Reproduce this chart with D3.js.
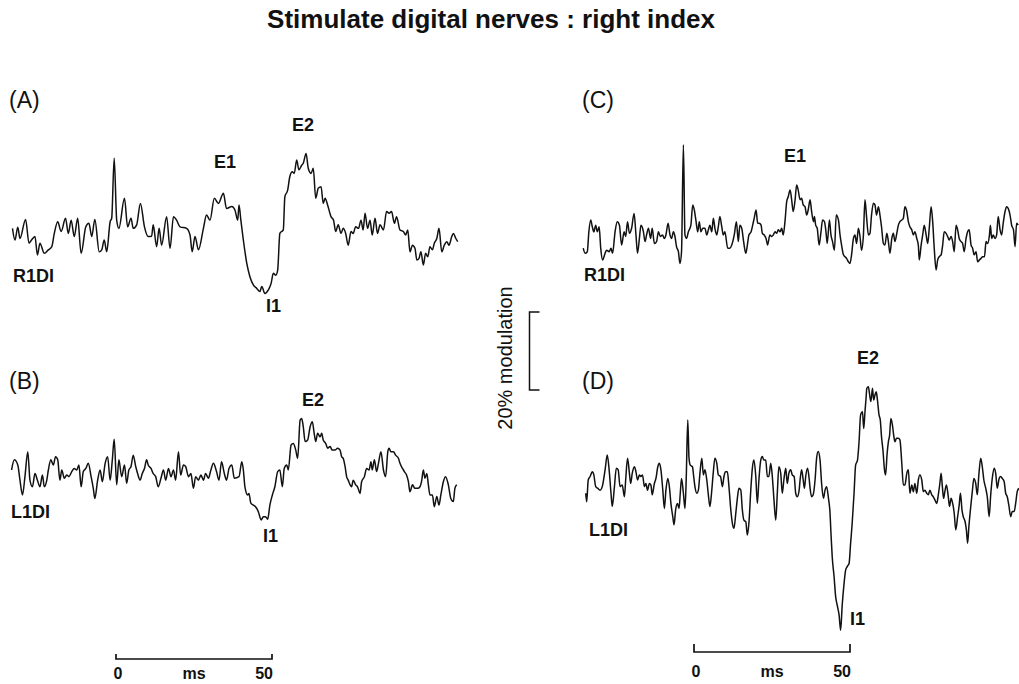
<!DOCTYPE html>
<html>
<head>
<meta charset="utf-8">
<script src="https://cdn.jsdelivr.net/npm/d3@7"></script>
<style>
  html, body { margin: 0; padding: 0; background: white; }
  svg { display: block; }
  text { font-family: "Liberation Sans", Arial, Helvetica, sans-serif; fill: #111; }
</style>
</head>
<body>
<svg id="main-svg" width="1019" height="684"></svg>
<script>
// traces: [time (ms from stimulus), modulation (%)]
const traceA = [
  [-33.5,1.7],[-32.7,-1.3],[-31.8,2.0],[-31.1,-0.9],[-29.3,4.0],[-28.2,-2.1],[-27.4,-1.3],[-26.3,-0.4],
  [-25.5,-5.1],[-24.7,-2.1],[-23.3,-4.7],[-22.0,-3.8],[-20.9,-3.0],[-20.1,0.4],[-19.0,3.4],[-17.9,0.9],
  [-16.5,4.3],[-15.6,0.4],[-14.7,3.8],[-13.7,-0.4],[-12.6,4.3],[-11.5,-4.7],[-10.0,2.1],[-9.0,3.0],
  [-8.1,-0.4],[-7.1,4.0],[-5.7,-4.3],[-4.9,-3.8],[-4.1,-1.3],[-3.3,-4.3],[-2.2,3.4],[-1.7,4.3],
  [-0.9,19.7],[-0.1,3.8],[0.6,1.7],[2.4,9.4],[3.4,2.1],[4.5,4.3],[5.2,1.7],[6.3,2.6],[7.5,8.1],
  [8.8,2.1],[10.0,-0.4],[11.1,-0.3],[11.6,2.6],[12.7,-3.0],[13.5,1.7],[14.3,-2.6],[15.9,4.7],
  [17.0,-3.4],[18.1,4.7],[19.1,3.8],[20.2,2.1],[22.3,1.7],[23.4,0],[24.1,-4.3],[25.0,-0.4],
  [26.1,-3.8],[27.7,1.7],[28.7,5.1],[29.8,3.8],[31.2,9.4],[32.5,8.1],[34.1,10.7],[35.1,6.8],
  [36.8,7.3],[37.8,6.4],[38.7,3.8],[39.1,7.7],[39.7,3.8],[40.5,-1.3],[41.6,-7.3],[42.6,-10.7],
  [43.7,-12.8],[44.8,-13.7],[45.8,-14.5],[46.4,-13.2],[47.4,-15.0],[48.5,-14.1],[49.4,-12.4],
  [50.1,-9.8],[50.9,-10.3],[51.5,-9.0],[52.2,0.4],[53.3,1.3],[53.8,9.8],[54.7,11.5],[55.4,15.0],
  [56.2,16.2],[56.8,15.8],[57.6,19.2],[58.3,16.7],[59.2,17.9],[59.7,18.4],[60.6,20.9],[61.3,17.1],
  [62.2,15.8],[62.9,17.1],[63.7,9.4],[64.5,12.0],[65.4,12.4],[66.1,8.1],[66.7,9.4],[67.5,7.7],
  [68.6,4.7],[69.4,3.8],[70.1,0.9],[70.9,2.6],[71.8,0.4],[72.5,1.7],[73.3,0.4],[74.1,-2.6],
  [75.0,0.9],[75.7,0.4],[76.5,2.1],[77.4,1.7],[78.2,3.8],[78.9,1.3],[79.5,5.6],[80.3,1.7],
  [81.1,3.8],[81.8,0],[82.7,4.3],[83.5,0.4],[84.3,2.6],[85.4,1.3],[86.4,6.0],[87.2,5.6],
  [88.0,6.0],[88.9,3.0],[89.6,4.7],[90.7,1.3],[91.8,0.9],[92.5,0],[93.2,1.3],[93.9,-4.3],
  [94.7,-2.6],[95.5,-3.4],[96.1,-6.4],[96.8,-6.0],[97.4,-4.3],[98.2,-7.7],[98.9,-4.7],[99.6,-5.6],
  [100.3,-3.0],[101.1,-3.8],[101.7,-2.1],[102.5,-0.9],[103.2,1.7],[104.1,-4.3],[104.9,-2.6],
  [105.7,-1.7],[106.4,-2.6],[107.3,-0.4],[107.8,0.4],[108.6,-0.9],[109.2,-1.7]
];

const traceB = [
  [-33.8,0],[-32.9,2.6],[-31.8,1.3],[-31.1,-2.6],[-30.3,-6.4],[-29.5,-1.7],[-28.6,4.7],[-27.9,-2.6],
  [-27.1,-4.3],[-26.3,-0.9],[-25.5,-2.6],[-24.7,-4.3],[-23.9,-1.3],[-23.3,-4.3],[-22.5,-2.6],[-22.0,0],
  [-21.2,2.6],[-20.4,1.3],[-19.7,3.4],[-19.0,2.6],[-18.3,-2.6],[-17.7,0],[-16.9,-2.1],[-16.1,-1.3],
  [-15.4,-1.7],[-14.5,-0.4],[-13.7,0.4],[-12.9,0],[-12.2,1.3],[-11.5,-4.3],[-10.8,-0.4],[-10.0,0.4],
  [-9.2,1.7],[-8.3,-1.7],[-7.6,-4.7],[-7.1,-7.3],[-6.2,-2.6],[-5.4,0],[-4.7,-3.0],[-3.8,1.7],
  [-3.0,3.4],[-2.2,-2.6],[-1.5,2.6],[-0.9,7.9],[-0.1,-3.8],[0.6,2.6],[1.5,-1.7],[2.4,1.3],
  [3.1,-3.4],[3.8,0],[4.5,0.9],[5.2,3.8],[6.0,0.9],[6.6,-0.9],[7.4,-2.6],[8.1,-0.9],[8.8,0.4],
  [9.5,2.6],[10.0,1.3],[10.9,0.4],[11.6,-0.9],[12.4,-1.7],[13.2,-4.3],[14.1,-2.1],[14.9,0],
  [15.6,-2.6],[16.5,0.4],[17.3,-1.7],[18.1,0],[18.8,-2.6],[19.7,4.7],[20.4,-1.3],[21.3,1.3],
  [22.0,0.9],[22.9,-1.7],[23.7,-0.9],[24.5,-4.7],[25.2,-1.7],[26.1,-2.6],[26.9,-1.3],[27.7,-2.6],
  [28.4,-0.9],[29.3,-2.1],[30.1,0],[30.9,1.7],[31.9,-0.4],[32.7,-2.6],[33.5,2.1],[34.4,-0.9],
  [35.1,-2.6],[35.9,0.4],[36.8,1.3],[37.6,-2.1],[39.1,-1.7],[40.0,2.1],[40.5,0],[41.0,-4.3],
  [41.9,-6.4],[42.3,-6.0],[42.9,-8.5],[43.7,-9.0],[44.4,-9.4],[45.3,-10.7],[46.2,-12.8],[46.9,-12.0],
  [47.6,-12.0],[48.3,-12.6],[49.0,-9.0],[49.8,-6.4],[50.6,-4.3],[51.5,-0.4],[52.2,0],[53.0,-4.3],
  [53.6,0.4],[54.4,1.3],[54.9,0],[55.8,6.4],[56.5,6.8],[57.3,5.1],[57.9,3.0],[58.7,12.8],
  [59.2,13.2],[59.7,11.1],[60.3,7.3],[61.1,7.7],[61.9,11.1],[62.6,12.4],[63.2,9.4],[63.7,7.3],
  [64.3,9.4],[65.1,8.5],[65.6,9.4],[66.1,7.7],[66.9,6.8],[67.5,5.6],[68.3,6.0],[69.0,5.1],
  [69.9,5.1],[70.7,5.6],[71.5,5.1],[72.0,3.4],[72.5,3.0],[73.1,0.9],[73.6,-1.7],[74.1,-2.6],
  [74.7,-3.8],[75.2,-4.3],[75.7,-2.6],[76.5,-3.8],[77.1,-4.3],[77.9,-6.0],[78.4,-3.0],[79.3,-1.7],
  [80.0,0.4],[80.8,0],[81.4,2.1],[81.8,0],[82.5,2.6],[83.2,-0.4],[83.8,1.7],[84.6,4.7],[85.4,0],
  [86.1,-1.7],[86.8,4.7],[87.2,5.6],[87.8,4.7],[88.6,4.7],[89.3,3.8],[90.2,3.0],[90.7,1.7],
  [91.5,0.4],[92.1,-0.4],[92.8,-1.3],[93.4,-3.0],[93.9,-5.6],[94.7,-3.8],[95.5,-4.7],[96.4,-4.7],
  [97.1,-4.3],[97.6,-3.0],[98.2,0],[98.7,-2.1],[99.3,-0.9],[99.8,-3.8],[100.3,-6.4],[101.1,-6.4],
  [101.7,-9.4],[102.5,-6.8],[103.2,-9.0],[103.8,-6.4],[104.6,-3.0],[105.3,-1.7],[106.2,-3.8],
  [107.0,-7.3],[107.8,-8.1],[108.3,-4.7],[108.9,-3.8]
];

const traceC = [
  [-35.5,-2.1],[-34.9,-3.4],[-34.2,-3.0],[-33.7,2.1],[-33.1,5.1],[-32.6,3.4],[-32.1,2.1],[-31.5,3.8],
  [-31.0,2.1],[-30.4,3.4],[-29.9,-2.1],[-29.3,-5.1],[-28.5,-3.4],[-28.0,-2.6],[-27.2,-3.0],[-26.6,-2.1],
  [-26.1,-3.4],[-25.3,2.1],[-24.6,4.7],[-23.9,3.8],[-23.2,-1.3],[-22.4,2.1],[-21.9,0.9],[-21.3,4.7],
  [-20.7,1.7],[-20.0,3.0],[-19.2,6.8],[-18.6,1.3],[-18.1,-3.4],[-17.5,0.4],[-17.0,3.8],[-16.2,2.1],
  [-15.7,-0.4],[-15.2,1.3],[-14.6,3.0],[-13.9,0.4],[-13.4,3.0],[-12.7,-0.9],[-12.0,-0.4],[-11.4,2.1],
  [-10.8,0.9],[-10.1,1.3],[-9.5,0.4],[-9.0,1.3],[-8.3,4.3],[-7.7,1.3],[-7.2,0.4],[-6.6,2.1],
  [-6.1,0.9],[-5.6,-1.7],[-5.0,-3.0],[-4.5,-6.0],[-4.0,-3.0],[-3.4,24.4],[-2.9,1.3],[-2.4,0.4],
  [-1.8,2.1],[-1.0,3.8],[-0.4,9.0],[0.1,7.7],[0.6,5.1],[1.2,2.1],[1.7,4.7],[2.2,2.1],[2.8,3.0],
  [3.5,3.0],[4.1,1.3],[4.6,2.6],[5.1,3.8],[5.7,2.1],[6.2,5.6],[6.7,3.0],[7.3,1.3],[7.8,3.4],
  [8.3,6.0],[8.9,3.4],[9.4,1.3],[9.9,2.1],[10.8,-2.1],[11.5,-2.1],[12.1,-1.3],[12.9,1.3],[13.6,4.7],
  [14.2,-0.4],[14.7,3.8],[15.3,3.0],[15.9,-0.4],[16.6,-3.4],[17.1,-1.3],[17.6,1.3],[18.3,2.1],
  [18.8,3.8],[19.3,5.6],[19.9,7.7],[20.4,4.3],[20.9,4.3],[21.5,3.8],[21.9,1.7],[22.5,1.3],[23.1,0.4],
  [23.6,-1.3],[24.3,1.3],[24.9,0.9],[25.4,1.3],[26.0,2.1],[26.5,1.7],[27.0,2.6],[27.6,2.1],[28.1,3.0],
  [28.6,1.3],[29.2,5.1],[29.7,9.8],[30.2,11.1],[30.8,12.8],[31.3,10.3],[31.8,7.3],[32.4,10.3],
  [32.9,14.1],[33.4,12.8],[34.0,10.3],[34.5,10.7],[35.0,9.0],[35.6,8.5],[36.1,6.4],[36.6,7.7],
  [37.2,10.3],[37.7,7.3],[38.3,4.7],[38.6,6.0],[39.0,3.8],[39.5,3.0],[40.1,-1.3],[40.7,2.1],
  [41.2,5.1],[41.8,4.7],[42.3,2.1],[42.7,-0.9],[43.4,5.1],[43.9,1.3],[44.4,-0.4],[45.0,-2.6],
  [45.6,6.4],[46.3,5.1],[46.8,1.3],[47.3,-1.3],[47.9,-3.8],[48.4,-4.3],[48.9,-4.7],[49.5,-5.6],
  [50.0,-6.0],[50.5,-3.8],[51.1,0.4],[51.6,1.3],[52.1,-0.9],[52.7,3.0],[53.2,0.9],[53.7,-2.6],
  [54.3,1.3],[54.8,10.3],[55.3,6.0],[55.9,1.3],[56.4,1.7],[56.9,6.4],[57.5,9.4],[58.0,9.0],
  [58.5,6.4],[59.1,8.5],[59.6,6.4],[60.1,3.4],[60.7,-0.9],[61.2,-1.3],[61.8,1.7],[62.3,-0.4],
  [62.8,-3.4],[63.4,0.4],[63.9,1.7],[64.4,-0.4],[65.0,1.7],[65.5,3.8],[66.0,4.7],[66.6,5.1],
  [67.1,5.6],[67.6,8.5],[68.2,7.3],[68.7,4.7],[69.2,3.4],[69.8,2.6],[70.3,1.3],[70.8,2.1],[71.4,0.4],
  [71.9,-1.3],[72.2,-5.1],[72.8,-1.3],[73.3,1.3],[73.8,3.8],[74.4,1.3],[74.9,-0.9],[75.4,3.0],
  [76.0,8.5],[76.5,4.7],[77.0,-2.1],[77.6,-7.7],[78.1,-5.1],[78.6,-4.3],[79.2,-3.8],[79.7,-1.3],
  [80.2,2.1],[80.8,1.7],[81.3,0.9],[81.8,0],[82.4,0.9],[82.9,-0.4],[83.4,-3.0],[84.0,3.8],[84.5,2.6],
  [85.0,0.4],[85.6,-0.4],[86.1,-0.9],[86.6,-3.0],[87.2,0.4],[87.7,2.1],[88.2,2.6],[88.8,-1.3],
  [89.3,-2.1],[89.8,-3.8],[90.4,-3.0],[90.9,-5.6],[91.5,-5.1],[92.0,-4.7],[92.5,-4.3],[93.1,-4.3],
  [93.6,-0.4],[94.1,-0.9],[94.7,1.3],[95.0,3.8],[95.4,0.4],[95.9,1.3],[96.5,0.4],[97.0,1.3],
  [97.5,6.0],[98.1,2.6],[98.6,1.3],[99.1,4.3],[99.7,7.3],[100.2,8.5],[100.7,8.1],[101.3,6.4],
  [101.8,3.8],[102.4,2.6],[102.9,-1.7],[103.4,4.3],[103.9,3.8]
];

const traceD = [
  [-34.7,-3.4],[-34.4,-5.6],[-33.9,0],[-33.3,0.9],[-32.6,2.1],[-32.1,1.3],[-31.5,-1.7],[-30.9,-2.1],
  [-30.1,-2.6],[-29.4,-1.7],[-28.5,2.6],[-27.8,6.4],[-27.2,2.6],[-26.6,-3.4],[-26.2,-6.8],[-25.5,-1.7],
  [-24.9,3.0],[-24.3,2.6],[-23.7,-1.7],[-23.0,-1.3],[-22.3,-4.3],[-21.9,0],[-21.3,5.6],[-20.7,1.7],
  [-20.3,-0.9],[-19.8,1.7],[-19.1,3.4],[-18.6,2.1],[-18.1,0],[-17.5,1.3],[-17.0,0.9],[-16.5,1.3],
  [-15.9,-1.7],[-15.4,-0.9],[-14.9,-2.6],[-14.3,-0.9],[-13.8,-1.3],[-13.4,-3.8],[-12.7,-0.9],
  [-12.2,0.4],[-11.6,3.4],[-11.1,4.3],[-10.6,2.6],[-10.0,-2.6],[-9.5,-7.3],[-9.0,-2.6],[-8.4,0.4],
  [-7.9,-1.7],[-7.4,-6.0],[-6.8,-9.4],[-6.4,-11.5],[-5.9,-7.7],[-5.3,-6.0],[-4.8,-7.3],[-4.4,-3.4],
  [-4.0,0.4],[-3.4,-3.4],[-2.9,-7.3],[-2.5,0],[-2.0,15.4],[-1.6,5.6],[-1.2,3.8],[-0.5,3.4],
  [-0.1,0.9],[0.3,-1.7],[0.9,-3.4],[1.4,-2.6],[1.9,1.7],[2.5,5.6],[3.0,1.3],[3.5,2.6],[4.1,0],
  [4.6,-3.8],[5.1,-6.8],[5.7,-2.6],[6.2,2.1],[6.7,5.6],[7.3,4.3],[7.8,1.3],[8.5,0.9],[9.1,-1.7],
  [9.6,0.9],[10.1,2.1],[10.7,2.1],[11.2,-1.7],[11.8,-7.7],[12.3,-11.1],[12.8,-12.4],[13.4,-8.5],
  [13.9,-4.7],[14.4,-2.1],[15.0,-2.6],[15.5,-7.7],[16.0,-10.3],[16.6,-10.7],[17.1,-14.1],[17.6,-11.1],
  [18.2,-2.6],[18.7,3.0],[19.2,5.1],[19.8,0.9],[20.3,-6.0],[20.8,0],[21.4,5.1],[21.9,6.0],[22.4,5.1],
  [23.0,5.1],[23.5,0.9],[24.0,0.9],[24.6,4.3],[25.1,0.9],[25.6,-4.7],[26.2,-10.3],[26.7,-3.4],
  [27.2,3.4],[27.8,1.7],[28.3,-3.4],[28.8,0],[29.4,3.0],[29.9,-0.9],[30.4,1.7],[31.0,2.6],[31.5,1.3],
  [32.1,0.9],[32.6,-3.4],[33.1,-4.3],[33.7,-2.6],[34.0,0],[34.5,2.6],[35.0,0],[35.4,-2.1],[35.8,0.9],
  [36.4,3.0],[36.9,0.4],[37.2,-2.1],[37.7,-4.3],[38.2,-3.8],[38.8,0],[39.3,5.6],[39.8,7.3],[40.4,5.1],
  [40.9,-0.9],[41.5,-4.7],[42.0,-2.6],[42.5,-1.7],[43.1,-4.7],[43.6,-8.5],[43.9,-13.7],[44.3,-19.7],
  [44.9,-24.8],[45.4,-29.9],[45.9,-32.1],[46.5,-34.6],[47.0,-38.5],[47.5,-32.1],[48.1,-26.5],
  [48.6,-23.1],[49.1,-22.2],[49.7,-21.4],[50.2,-16.2],[50.7,-11.1],[51.3,-3.4],[51.8,3.8],[52.4,5.1],
  [52.9,9.8],[53.4,16.7],[54.0,17.5],[54.4,13.2],[54.8,17.5],[55.1,20.5],[55.4,23.5],[55.9,23.9],
  [56.3,21.8],[56.7,20.1],[57.2,23.5],[57.6,20.5],[58.0,21.8],[58.4,22.6],[58.8,20.5],[59.3,16.7],
  [59.7,15.4],[60.1,11.1],[60.6,7.3],[61.0,3.0],[61.4,1.3],[61.9,6.8],[62.3,9.8],[62.7,11.5],
  [63.1,15.8],[63.6,14.1],[64.0,11.5],[64.4,9.8],[64.9,10.7],[65.5,10.7],[66.0,10.3],[66.6,4.3],
  [67.1,-1.3],[67.6,-1.3],[68.2,1.7],[68.7,2.6],[69.2,-3.4],[69.8,-1.3],[70.3,-3.0],[70.8,-0.9],
  [71.4,-3.4],[71.9,0],[72.4,1.3],[73.0,0],[73.5,-3.0],[74.0,-2.6],[74.6,-3.4],[75.1,-3.8],[75.6,-2.6],
  [76.2,-3.8],[76.7,-4.3],[77.2,-5.1],[77.8,-6.0],[78.3,-3.8],[78.8,-0.9],[79.2,1.7],[79.6,-1.7],
  [80.0,-4.7],[80.4,-3.0],[80.9,-1.3],[81.5,-4.3],[81.9,-6.8],[82.4,-4.7],[82.8,-5.6],[83.4,-8.5],
  [83.9,-12.8],[84.5,-9.4],[85.0,-6.4],[85.4,-3.4],[85.9,-7.7],[86.3,-9.4],[86.9,-10.7],[87.3,-12.8],
  [87.7,-16.2],[88.1,-12.0],[88.7,-6.8],[89.2,-3.0],[89.7,0.4],[90.3,-0.9],[90.8,-3.8],[91.3,1.3],
  [91.9,5.6],[92.4,3.4],[92.9,0],[93.5,-2.1],[94.0,-4.3],[94.6,-9.4],[95.1,-3.8],[95.6,0.4],
  [96.2,3.0],[96.7,1.7],[97.2,-2.1],[97.8,0.4],[98.3,0.9],[98.8,0.4],[99.4,-0.4],[99.9,-3.4],
  [100.4,-4.3],[100.9,-6.4],[101.5,-9.4],[102.0,-8.1],[102.6,-8.1],[103.1,-6.0],[103.6,-3.0],[104.1,-2.1]
];

const timeBar = [0, 50];          // ms scale bar
const modulationBar = [0, 20];    // % modulation scale bar
const titleText = "Stimulate digital nerves : right index";

// panel layout (pixel anchors for time 0 and modulation 0)
const panels = [
  { id: "(A)", data: traceA, x0: 117, y0: 235,
    labels: [["E1", 214, 168], ["E2", 292, 131], ["I1", 266, 312], ["R1DI", 13, 282]] },
  { id: "(B)", data: traceB, x0: 117, y0: 470,
    labels: [["E2", 302, 406], ["I1", 263, 542], ["L1DI", 11, 518]] },
  { id: "(C)", data: traceC, x0: 694, y0: 240,
    labels: [["E1", 784, 162], ["R1DI", 584, 281]] },
  { id: "(D)", data: traceD, x0: 694, y0: 480,
    labels: [["E2", 857, 364], ["I1", 850, 625], ["L1DI", 589, 536]] }
];
const panelTags = [[9, 108], [9, 389], [582, 108], [582, 389]];

const pxPerMs = 3.12;
const pxPerPct = 3.9;

const svg = d3.select("#main-svg");

// title
svg.append("text")
    .attr("x", 491)
    .attr("y", 28)
    .attr("text-anchor", "middle")
    .style("font-size", "26px")
    .style("font-weight", "bold")
    .text(titleText);

panels.forEach(function(p, i) {
    var x = d3.scaleLinear().domain([0, 50]).range([p.x0, p.x0 + 50 * pxPerMs]);
    var y = d3.scaleLinear().domain([0, 20]).range([p.y0, p.y0 - 20 * pxPerPct]);

    var line = d3.line()
        .x(d => x(d[0]))
        .y(d => y(d[1]))
        .curve(d3.curveMonotoneX);

    svg.append("path")
        .datum(p.data)
        .attr("d", line)
        .attr("fill", "none")
        .attr("stroke", "#111")
        .attr("stroke-width", 1.5)
        .attr("stroke-linejoin", "round");

    svg.append("text")
        .attr("x", panelTags[i][0])
        .attr("y", panelTags[i][1])
        .style("font-size", "23px")
        .text(p.id);

    p.labels.forEach(function(l) {
        svg.append("text")
            .attr("x", l[1])
            .attr("y", l[2])
            .style("font-size", "18px")
            .style("font-weight", "bold")
            .text(l[0]);
    });
});

// time scale bars under (B) and (D)
[{ x0: 116, y: 659, tick: 5, ty: 679 }, { x0: 694, y: 652, tick: 8, ty: 677 }].forEach(function(b) {
    var x = d3.scaleLinear().domain([0, 50]).range([b.x0, b.x0 + 50 * pxPerMs]);
    var xa = x(timeBar[0]), xb = x(timeBar[1]);
    svg.append("path")
        .attr("d", `M${xa},${b.y - b.tick}V${b.y}H${xb}V${b.y - b.tick}`)
        .attr("fill", "none")
        .attr("stroke", "#111")
        .attr("stroke-width", 1.7);
    svg.append("text").attr("x", xa + 2).attr("y", b.ty).attr("text-anchor", "middle")
        .style("font-size", "16px").style("font-weight", "bold").text(timeBar[0]);
    svg.append("text").attr("x", (xa + xb) / 2).attr("y", b.ty).attr("text-anchor", "middle")
        .style("font-size", "16px").style("font-weight", "bold").text("ms");
    svg.append("text").attr("x", xb + 1).attr("y", b.ty).attr("text-anchor", "end")
        .style("font-size", "16px").style("font-weight", "bold").text(timeBar[1]);
});

// 20% modulation bracket
var ym = d3.scaleLinear().domain([0, 20]).range([390, 390 - 20 * pxPerPct]);
svg.append("path")
    .attr("d", `M539.5,${ym(modulationBar[1])}H529.5V${ym(modulationBar[0])}H539.5`)
    .attr("fill", "none")
    .attr("stroke", "#111")
    .attr("stroke-width", 1.5);
svg.append("text")
    .attr("transform", "translate(512,358) rotate(-90)")
    .attr("text-anchor", "middle")
    .style("font-size", "20px")
    .text("20% modulation");
</script>
</body>
</html>
